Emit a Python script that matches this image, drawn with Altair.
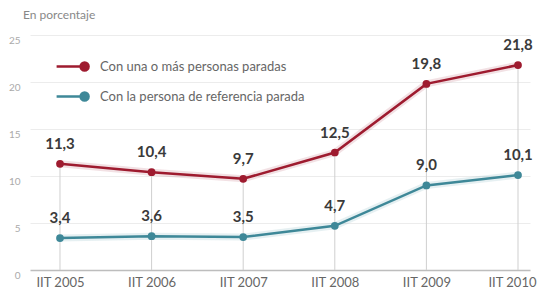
import altair as alt
import pandas as pd
import json

categories = ["IIT 2005", "IIT 2006", "IIT 2007", "IIT 2008", "IIT 2009", "IIT 2010"]
series_names = ["Con una o más personas paradas", "Con la persona de referencia parada"]
red_values = [11.3, 10.4, 9.7, 12.5, 19.8, 21.8]
blue_values = [3.4, 3.6, 3.5, 4.7, 9.0, 10.1]
series_colors = ["#9e1b2f", "#3e8898"]
y_ticks = [0, 5, 10, 15, 20, 25]

rows = []
for name, vals in zip(series_names, [red_values, blue_values]):
    for i, (c, v) in enumerate(zip(categories, vals)):
        rows.append({"serie": name, "idx": i, "cat": c, "value": v,
                     "label": f"{v:.1f}".replace(".", ",")})
df = pd.DataFrame(rows)
df_max = pd.DataFrame({"idx": list(range(len(categories))),
                       "top": [max(a, b) for a, b in zip(red_values, blue_values)]})

FONT = "Lato, Open Sans, sans-serif"
label_expr = json.dumps(categories) + "[datum.value]"

x_scale = alt.Scale(domain=[-0.3275, 5.131], nice=False, zero=False)
x_enc = alt.X("idx:Q", scale=x_scale,
              axis=alt.Axis(title=None, domain=False, ticks=False, grid=False,
                            values=list(range(len(categories))), labelExpr=label_expr,
                            labelFontSize=13, labelColor="#666", labelPadding=6,
                            labelFont=FONT, labelFlush=15, labelFlushOffset=18))
y_enc = alt.Y("value:Q", scale=alt.Scale(domain=[0, 25], nice=False),
              axis=alt.Axis(title=None, values=y_ticks, domain=False, ticks=False,
                            labelFontSize=10, labelColor="#aaa", labelPadding=10,
                            labelOffset=5, labelFont=FONT,
                            gridColor={"expr": "datum.value == 0 ? '#bdbdbd' : '#ececec'"},
                            gridWidth={"expr": "datum.value == 0 ? 1.5 : 1"}))

cscale = alt.Scale(domain=series_names, range=series_colors)
legend_path = "M-2.7,0L1.3,0M1.87,0A0.57,0.57,0,1,1,0.73,0A0.57,0.57,0,1,1,1.87,0Z"
leg = alt.Legend(title=None, orient="none", legendX=37, legendY=23,
                 symbolType=legend_path, symbolSize=196, symbolStrokeWidth=2.5,
                 labelFontSize=13, labelColor="#666", labelFont=FONT, labelLimit=400,
                 labelOffset=16, rowPadding=11, padding=0)

base = alt.Chart(df)

rules = alt.Chart(df_max).mark_rule(color="#cfcfcf", strokeWidth=1).encode(
    x=alt.X("idx:Q", scale=x_scale), y=alt.Y("top:Q"), y2=alt.datum(0))

halos = [
    base.transform_filter(alt.datum.serie == name)
    .mark_line(strokeWidth=7, opacity=0.13, color=col)
    .encode(x=x_enc, y=y_enc)
    for name, col in zip(series_names, series_colors)
]

lines = base.mark_line(strokeWidth=2.5).encode(
    x=x_enc, y=y_enc, color=alt.Color("serie:N", scale=cscale, legend=leg))

points = base.mark_point(filled=True, size=60, opacity=1).encode(
    x=x_enc, y=y_enc, fill=alt.Fill("serie:N", scale=cscale, legend=leg))

labels = base.mark_text(dy=-20, fontSize=15, fontWeight="bold", color="#3a3a3a",
                        font=FONT).encode(x=x_enc, y=y_enc, text="label:N")

chart = alt.layer(rules, *halos, lines, points, labels).properties(
    width=500, height=235,
    title=alt.Title("En porcentaje", anchor="start", frame="group", fontSize=12,
                    color="#888", fontWeight="normal", font=FONT, dx=-7, offset=13),
    padding={"left": 22, "top": 27, "right": 7, "bottom": 20},
    autosize=alt.AutoSizeParams(type="none"),
).configure_view(stroke=None)

chart.save("out.html", embed_options={"renderer": "svg", "actions": False})
